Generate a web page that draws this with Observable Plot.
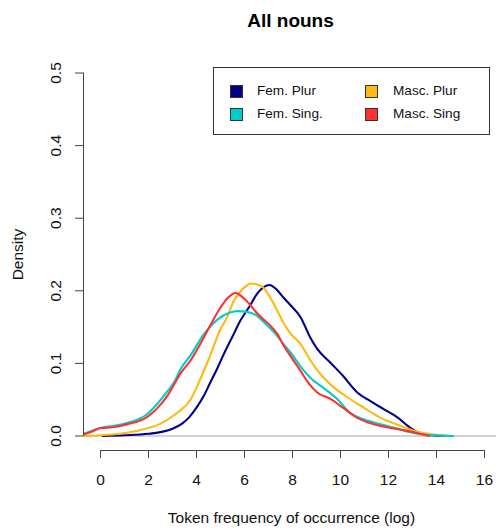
<!DOCTYPE html>
<html><head><meta charset="utf-8">
<script src="https://cdn.jsdelivr.net/npm/d3@7"></script>
<script src="https://cdn.jsdelivr.net/npm/@observablehq/plot@0.6"></script>
<style>
body{margin:0;background:#fff;font-family:"Liberation Sans",Arial,sans-serif;}
#wrap{position:relative;width:496px;height:532px;}
#legend{position:absolute;left:213px;top:67px;width:277px;height:68px;border:1px solid #333;box-sizing:border-box;background:#fff;}
.lbl{position:absolute;font-size:13.6px;color:#111;line-height:16px;white-space:nowrap;}
.sw{position:absolute;width:13px;height:13px;border:1px solid #333;box-sizing:border-box;}
</style></head><body><div id="wrap"></div>
<script>
// ---- data ----
const title = "All nouns";
const xLabel = "Token frequency of occurrence (log)";
const yLabel = "Density";
const xTicks = [0, 2, 4, 6, 8, 10, 12, 14, 16];
const yTicks = [0, 0.1, 0.2, 0.3, 0.4, 0.5];
const seriesNames = ["Fem. Plur", "Masc. Plur", "Fem. Sing.", "Masc. Sing"];
const seriesColors = ["#00008B", "#FFB90F", "#00CDCD", "#FF3030"];

const femPlurX = [0.1, 1.0, 2.0, 2.6, 3.0, 3.4, 3.7, 4.0, 4.3, 4.58, 4.85, 5.14, 5.5, 5.83, 6.2, 6.53, 6.8, 7.04, 7.3, 7.64, 7.92, 8.33, 8.75, 9.03, 9.58, 10.1, 10.7, 11.25, 11.8, 12.4, 12.8, 13.1, 13.4, 13.8, 14.6];
const femPlurD = [0.000, 0.001, 0.003, 0.006, 0.010, 0.017, 0.026, 0.039, 0.055, 0.074, 0.092, 0.113, 0.137, 0.159, 0.178, 0.196, 0.205, 0.208, 0.203, 0.190, 0.180, 0.164, 0.135, 0.120, 0.101, 0.083, 0.060, 0.048, 0.037, 0.025, 0.014, 0.007, 0.003, 0.001, 0.000];

const mascPlurX = [-0.7, 0.0, 0.8, 1.5, 2.5, 3.2, 3.75, 4.1, 4.5, 5.0, 5.28, 5.55, 5.8, 6.05, 6.25, 6.5, 6.8, 7.05, 7.36, 7.64, 7.92, 8.33, 8.75, 9.17, 9.72, 10.3, 10.97, 11.67, 12.5, 12.8, 13.3, 13.9, 14.5];
const mascPlurD = [0.000, 0.001, 0.003, 0.007, 0.017, 0.032, 0.050, 0.074, 0.105, 0.147, 0.164, 0.186, 0.198, 0.206, 0.210, 0.209, 0.204, 0.192, 0.173, 0.155, 0.141, 0.127, 0.104, 0.085, 0.067, 0.053, 0.039, 0.025, 0.014, 0.010, 0.005, 0.002, 0.000];

const femSingX = [-0.7, -0.3, 0.0, 0.56, 1.1, 1.94, 2.36, 2.8, 3.1, 3.33, 3.75, 4.3, 4.86, 5.4, 5.7, 6.1, 6.5, 6.8, 7.08, 7.36, 7.64, 7.92, 8.33, 8.75, 9.3, 9.86, 10.4, 10.97, 11.67, 12.5, 12.9, 13.5, 14.7];
const femSingD = [0.003, 0.008, 0.011, 0.014, 0.018, 0.030, 0.044, 0.062, 0.076, 0.092, 0.111, 0.140, 0.160, 0.170, 0.172, 0.171, 0.166, 0.157, 0.148, 0.138, 0.126, 0.115, 0.096, 0.080, 0.066, 0.051, 0.032, 0.023, 0.016, 0.009, 0.005, 0.002, 0.000];

const mascSingX = [-0.7, -0.3, 0.0, 0.5, 1.1, 1.94, 2.36, 2.8, 3.33, 3.75, 4.44, 5.0, 5.3, 5.63, 5.96, 6.25, 6.5, 6.8, 7.08, 7.36, 7.64, 7.92, 8.33, 8.6, 9.03, 9.58, 10.1, 10.7, 11.4, 12.1, 12.8, 13.3, 13.7];
const mascSingD = [0.002, 0.007, 0.011, 0.012, 0.016, 0.026, 0.038, 0.056, 0.086, 0.104, 0.144, 0.177, 0.190, 0.197, 0.190, 0.180, 0.170, 0.160, 0.152, 0.141, 0.124, 0.110, 0.090, 0.076, 0.060, 0.051, 0.039, 0.025, 0.016, 0.011, 0.007, 0.003, 0.000];

// ---- build table ----
const seriesX = [femPlurX, mascPlurX, femSingX, mascSingX];
const seriesD = [femPlurD, mascPlurD, femSingD, mascSingD];
const rows = [];
seriesNames.forEach((name, i) => {
  seriesX[i].forEach((x, j) => rows.push({series: name, x, d: seriesD[i][j]}));
});

const xDomain = [-0.708, 16.5];
const yDomain = [-0.02, 0.52];
const axisColor = "#444";
const font = "'Liberation Sans', Arial, sans-serif";

const chart = Plot.plot({
  width: 496, height: 532,
  marginTop: 58, marginBottom: 82, marginLeft: 83, marginRight: 0,
  x: {domain: xDomain},
  y: {domain: yDomain},
  color: {domain: seriesNames, range: seriesColors},
  style: {fontFamily: font, fontSize: "15.5px", color: "#111", background: "#fff"},
  marks: [
    Plot.ruleY([0], {stroke: "#d3d3d3", strokeWidth: 2}),
    Plot.line(rows, {x: "x", y: "d", z: "series", stroke: "series", strokeWidth: 2.1, clip: true, curve: "monotone-x"}),
    Plot.ruleX([xDomain[0]], {y1: yTicks[0], y2: yTicks[yTicks.length - 1], stroke: axisColor}),
    Plot.ruleY([yDomain[0]], {x1: xTicks[0], x2: xTicks[xTicks.length - 1], stroke: axisColor}),
    Plot.axisX({ticks: xTicks, tickSize: 8, tickPadding: 15, stroke: axisColor, label: null, tickFormat: d => String(d), fontSize: 15.5, fill: "#111"}),
    Plot.axisY({ticks: yTicks, tickSize: 8, tickFormat: () => "", stroke: axisColor, label: null}),
    Plot.text(yTicks, {frameAnchor: "left", y: d => d, text: d => d.toFixed(1), rotate: -90, dx: -27.5, textAnchor: "middle", lineAnchor: "middle", fontSize: 15.5, fill: "#111"}),
    Plot.text([yLabel], {frameAnchor: "left", text: d => d, rotate: -90, dx: -65, textAnchor: "middle", lineAnchor: "middle", fontSize: 15.5, fill: "#111"}),
    Plot.text([xLabel], {frameAnchor: "bottom", text: d => d, dy: 67.5, dx: 1.5, textAnchor: "middle", lineAnchor: "middle", fontSize: 15.5, fill: "#111"}),
    Plot.text([title], {frameAnchor: "top", text: d => d, dy: -37.3, dx: 0.5, textAnchor: "middle", lineAnchor: "middle", fontSize: 19, fontWeight: "bold", fill: "#000"})
  ]
});

const wrap = document.getElementById("wrap");
wrap.appendChild(chart);

// ---- legend (HTML overlay inside the plot area, as in the reference) ----
const legend = document.createElement("div");
legend.id = "legend";
const cols = [{sw: 16, tx: 43}, {sw: 151, tx: 179}];
const rowsTop = [16.5, 39.5];
const legendOrder = [["Fem. Plur", "Masc. Plur"], ["Fem. Sing.", "Masc. Sing"]];
legendOrder.forEach((r, ri) => r.forEach((name, ci) => {
  const sw = document.createElement("div");
  sw.className = "sw";
  sw.style.left = cols[ci].sw + "px";
  sw.style.top = rowsTop[ri] + "px";
  sw.style.background = seriesColors[seriesNames.indexOf(name)];
  legend.appendChild(sw);
  const t = document.createElement("div");
  t.className = "lbl";
  t.textContent = name;
  t.style.left = cols[ci].tx + "px";
  t.style.top = (rowsTop[ri] - 1.5) + "px";
  legend.appendChild(t);
}));
wrap.appendChild(legend);
</script>
</body></html>
